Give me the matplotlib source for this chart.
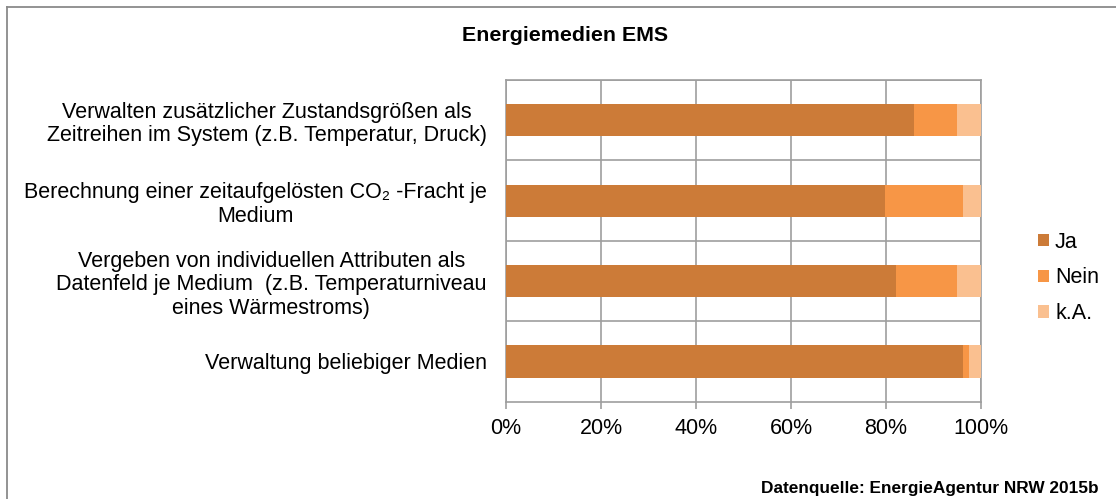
import matplotlib
matplotlib.use("Agg")
import matplotlib.pyplot as plt
from matplotlib.lines import Line2D
import numpy as np

plt.rcParams['font.family'] = ['Liberation Sans', 'DejaVu Sans']

# data (top to bottom as in the chart)
categories = [
    "Verwalten zusätzlicher Zustandsgrößen als\nZeitreihen im System (z.B. Temperatur, Druck)",
    "Berechnung einer zeitaufgelösten CO\u2082 -Fracht je\nMedium",
    "Vergeben von individuellen Attributen als\nDatenfeld je Medium  (z.B. Temperaturniveau\neines Wärmestroms)",
    "Verwaltung beliebiger Medien",
]
ja = [86.0, 79.7, 82.2, 96.3]
nein = [8.9, 16.6, 12.7, 1.2]
ka = [5.1, 3.7, 5.1, 2.5]
series_names = ["Ja", "Nein", "k.A."]
colors = ["#CC7B38", "#F79646", "#FAC090"]
x_ticks = [0, 20, 40, 60, 80, 100]
x_tick_labels = ["0%", "20%", "40%", "60%", "80%", "100%"]

grid_col = "#9E9E9E"

fig = plt.figure(figsize=(11.16, 4.99), dpi=100)
ax = fig.add_axes([0.4534, 0.195, 0.879 - 0.4534, 0.8397 - 0.195])

y = np.arange(len(categories))
left = np.zeros(len(categories))
for vals, name, c in zip([ja, nein, ka], series_names, colors):
    ax.barh(y, vals, left=left, height=0.4, color=c, label=name, zorder=3)
    left = left + np.array(vals)

ax.set_xlim(0, 100)
ax.set_ylim(len(categories) - 0.5, -0.5)
ax.set_xticks(x_ticks)
ax.set_xticklabels(x_tick_labels, fontsize=15.5)
ax.set_yticks(y)
ax.set_yticklabels(categories, fontsize=15.5, ha='right', multialignment='center',
                   linespacing=1.15)
ax.set_yticks(np.arange(-0.5, len(categories) - 0.5, 1.0), minor=True)

ax.tick_params(axis='x', direction='out', length=5, width=1.2, color=grid_col, pad=7)
ax.tick_params(axis='y', which='both', length=0, pad=14)

ax.grid(True, axis='x', color=grid_col, linewidth=1.2, zorder=1)
ax.grid(True, axis='y', which='minor', color=grid_col, linewidth=1.2, zorder=1)
for s in ax.spines.values():
    s.set_color(grid_col)
    s.set_linewidth(1.2)

fig.text(0.506, 0.928, "Energiemedien EMS", fontsize=15.4, fontweight='bold',
         ha='center', va='center')
fig.text(0.984, 0.022, "Datenquelle: EnergieAgentur NRW 2015b", fontsize=12.4,
         fontweight='bold', ha='right', va='center')

handles, labels = ax.get_legend_handles_labels()
fig.legend(handles, labels, loc='center left', bbox_to_anchor=(0.93, 0.443),
           frameon=False, fontsize=15.5, handlelength=0.5, handleheight=0.5,
           handletextpad=0.3, labelspacing=0.68, borderpad=0, borderaxespad=0)

# outer chart border (only left and top edges visible)
x0 = 7 / 1116
y0 = 1 - 7 / 499
fig.add_artist(Line2D([x0, x0], [0, y0], transform=fig.transFigure, color="#8A8A8A", linewidth=1.3))
fig.add_artist(Line2D([x0, 1], [y0, y0], transform=fig.transFigure, color="#8A8A8A", linewidth=1.3))

fig.savefig("out.png", dpi=100)
